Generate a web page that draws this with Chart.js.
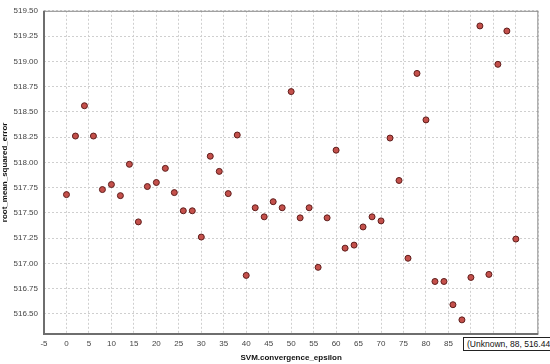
<!DOCTYPE html>
<html>
<head>
<meta charset="utf-8">
<script src="https://cdn.jsdelivr.net/npm/chart.js@4/dist/chart.umd.min.js"></script>
<style>
  body { margin: 0; background: #fff; overflow: hidden; }
  #wrap { position: relative; width: 550px; height: 364px; overflow: hidden; }
  #tip {
    position: absolute; left: 463px; top: 337px; width: 110px; height: 12px;
    border: 1px solid #222; background: #fff; color: #111;
    font: 8.5px "Liberation Sans", Arial, sans-serif; line-height: 12px;
    padding-left: 3px; white-space: nowrap;
  }
</style>
</head>
<body>
<div id="wrap">
  <canvas id="chart" width="550" height="364"></canvas>
  <div id="tip">(Unknown, 88, 516.44</div>
</div>
<script>
// SVM.convergence_epsilon vs root_mean_squared_error
const epsilon = [0, 2, 4, 6, 8, 10, 12, 14, 16, 18, 20, 22, 24, 26, 28, 30, 32, 34, 36, 38,
  40, 42, 44, 46, 48, 50, 52, 54, 56, 58, 60, 62, 64, 66, 68, 70, 72, 74, 76, 78,
  80, 82, 84, 86, 88, 90, 92, 94, 96, 98, 100];
const rmse = [517.68, 518.26, 518.56, 518.26, 517.73, 517.78, 517.67, 517.98, 517.41, 517.76,
  517.80, 517.94, 517.70, 517.52, 517.52, 517.26, 518.06, 517.91, 517.69, 518.27,
  516.88, 517.55, 517.46, 517.61, 517.55, 518.70, 517.45, 517.55, 516.96, 517.45,
  518.12, 517.15, 517.18, 517.36, 517.46, 517.42, 518.24, 517.82, 517.05, 518.88,
  518.42, 516.82, 516.82, 516.59, 516.44, 516.86, 519.35, 516.89, 518.97, 519.30,
  517.24];

const xRange = { min: -5, max: 105, step: 5 };
const yRange = { min: 516.3, max: 519.5, step: 0.25 };

let points = [];
epsilon.forEach((e, i) => points.push({ x: e, y: rmse[i] }));

// gray frame, heavier on the left and bottom axes
const framePlugin = {
  id: 'frame',
  beforeDatasetsDraw(chart) {
    const { ctx, chartArea: a } = chart;
    ctx.save();
    ctx.strokeStyle = '#8a8a8a';
    ctx.lineWidth = 1;
    ctx.strokeRect(a.left + 0.5, a.top + 0.5, a.right - a.left - 1, a.bottom - a.top - 1);
    ctx.strokeStyle = '#6e6e6e';
    ctx.lineWidth = 2;
    ctx.beginPath();
    ctx.moveTo(a.left, a.top);
    ctx.lineTo(a.left, a.bottom);
    ctx.lineTo(a.right, a.bottom);
    ctx.stroke();
    ctx.restore();
  }
};

const tickFont = { family: '"Liberation Sans", Arial, sans-serif', size: 8 };
const titleFont = { family: '"Liberation Sans", Arial, sans-serif', size: 8, weight: 'bold' };

new Chart(document.getElementById('chart'), {
  type: 'scatter',
  data: {
    datasets: [{
      label: 'rmse',
      data: points,
      backgroundColor: '#c4504b',
      borderColor: '#5e1d1b',
      borderWidth: 1,
      pointRadius: 3,
    }]
  },
  options: {
    responsive: false,
    animation: false,
    devicePixelRatio: 1,
    layout: { padding: { top: 8, right: 9, left: 0, bottom: 0 } },
    plugins: { legend: { display: false }, tooltip: { enabled: false } },
    scales: {
      x: {
        type: 'linear',
        min: xRange.min,
        max: xRange.max,
        afterFit(s) { s.height = 30; },
        ticks: { stepSize: xRange.step, font: tickFont, color: '#444', padding: 5, maxRotation: 0 },
        grid: { color: '#cfcfcf', drawTicks: false },
        border: { display: false, dash: [2, 2] },
        title: { display: true, text: 'SVM.convergence_epsilon', font: titleFont, color: '#111', padding: { top: 0, bottom: 1 } }
      },
      y: {
        min: yRange.min,
        max: yRange.max,
        afterFit(s) { s.width = 44; },
        afterBuildTicks(s) {
          s.ticks = s.ticks.filter(t => Math.abs(t.value * 4 - Math.round(t.value * 4)) < 1e-6);
        },
        ticks: {
          stepSize: yRange.step, font: tickFont, color: '#444', padding: 6,
          callback: v => v.toFixed(2)
        },
        grid: { color: '#cfcfcf', drawTicks: false },
        border: { display: false, dash: [2, 2] },
        title: { display: true, text: 'root_mean_squared_error', font: titleFont, color: '#111', padding: { top: 0, bottom: 0 } }
      }
    }
  },
  plugins: [framePlugin]
});
</script>
</body>
</html>
